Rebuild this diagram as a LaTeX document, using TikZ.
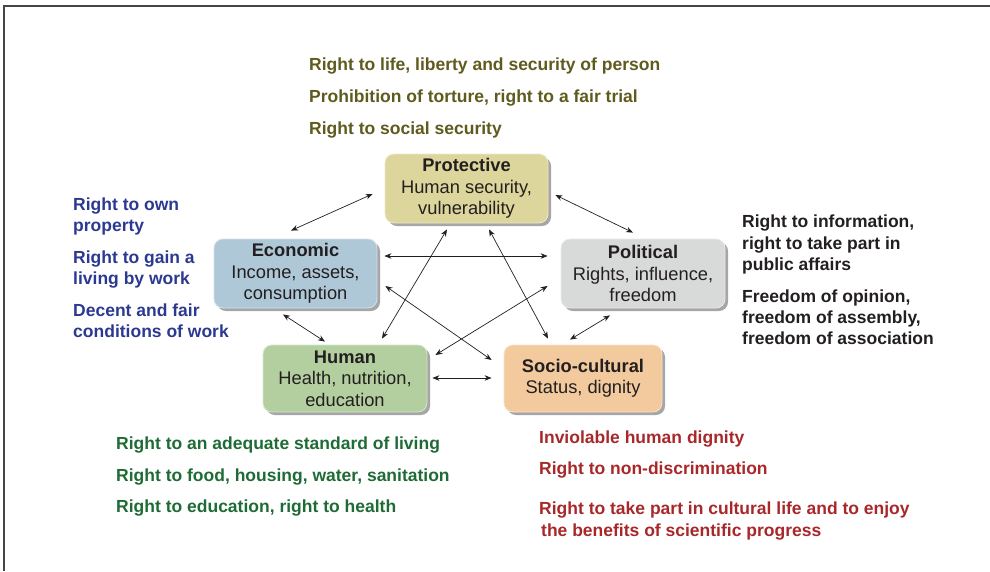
\documentclass[tikz,border=0pt]{standalone}
\usepackage{fontspec}
\setmainfont{Liberation Sans}
\usetikzlibrary{arrows.meta,calc,shadows}

\definecolor{olivetxt}{RGB}{95,90,30}
\definecolor{bluetxt}{RGB}{43,57,144}
\definecolor{blacktxt}{RGB}{35,31,32}
\definecolor{greentxt}{RGB}{30,107,53}
\definecolor{redtxt}{RGB}{168,40,42}
\definecolor{protfill}{RGB}{221,214,156}
\definecolor{econfill}{RGB}{175,200,216}
\definecolor{polfill}{RGB}{216,217,217}
\definecolor{humfill}{RGB}{179,207,160}
\definecolor{sociofill}{RGB}{243,202,158}
\definecolor{framecol}{RGB}{70,70,70}

\begin{document}
\begin{tikzpicture}[x=1pt,y=-1pt,
  box/.style={rounded corners=9pt, minimum height=69pt, align=center,
    fill=#1, draw=#1!55!white, line width=0.8pt,
    font=\fontsize{18.3}{21.5}\selectfont, text=blacktxt, inner sep=0pt,
    drop shadow={shadow xshift=3pt, shadow yshift=-3pt, fill=black!35, opacity=1}},
  rights/.style={anchor=base west, inner sep=0pt, text=#1,
    font=\fontsize{17.5}{21}\selectfont\bfseries},
  arr/.style={{Stealth[length=7pt,width=5.5pt]}-{Stealth[length=7pt,width=5.5pt]},
    line width=0.7pt, blacktxt}]

\useasboundingbox (0,0) rectangle (990,571);

% frame along the top and left edges
\draw[framecol, line width=1.5pt] (4,571) -- (4,6) -- (990,6);

% the five dimensions
\node[box=protfill, minimum width=163pt] (prot) at (466.5,188.5)
  {\textbf{Protective}\\Human security,\\vulnerability};
\node[box=econfill, minimum width=163pt] (econ) at (295.5,273.5)
  {\textbf{Economic}\\Income, assets,\\consumption};
\node[box=polfill, minimum width=164pt] (pol) at (643,273.5)
  {\textbf{Political}\\Rights, influence,\\freedom};
\node[box=humfill, minimum width=164pt, minimum height=67pt] (hum) at (345,378.5)
  {\textbf{Human}\\Health, nutrition,\\education};
\node[box=sociofill, minimum width=158pt, minimum height=67pt] (socio) at (583,378.5)
  {\textbf{Socio-cultural}\\Status, dignity};

% connections between the dimensions
\draw[arr] ($(prot.west)+(-12,5.5)$) -- ($(econ.north)+(-4.5,-8)$);
\draw[arr] ($(prot.east)+(7,6.5)$) -- ($(pol.north)+(-10,-6)$);
\draw[arr] ($(econ.east)+(7,-17.5)$) -- ($(pol.west)+(-13,-17.5)$);
\draw[arr] ($(prot.south)+(-19.5,6)$) -- ($(hum.north)+(37,-6)$);
\draw[arr] ($(prot.south)+(22.5,6)$) -- ($(socio.north)+(-35,-6)$);
\draw[arr] ($(econ.east)+(8,12.5)$) -- ($(socio.west)+(-12,-18.5)$);
\draw[arr] ($(pol.west)+(-13,12.5)$) -- ($(hum.east)+(8,-23.5)$);
\draw[arr] ($(econ.south)+(-12.5,6)$) -- ($(hum.north)+(-20,-3)$);
\draw[arr] ($(pol.south)+(-33,7)$) -- ($(socio.north)+(-13,-5)$);
\draw[arr] ($(hum.east)+(5,-0.5)$) -- ($(socio.west)+(-12,-0.5)$);

% rights linked to the protective dimension
\node[rights=olivetxt] (p1) at (309,70.5) {Right to life, liberty and security of person};
\node[rights=olivetxt] (p2) at (309,102.5) {Prohibition of torture, right to a fair trial};
\node[rights=olivetxt] (p3) at (309,134.5) {Right to social security};

% rights linked to the economic dimension
\node[rights=bluetxt] (e1) at (73,210.5) {Right to own};
\node[rights=bluetxt] (e2) at (73,231.5) {property};
\node[rights=bluetxt] (e3) at (73,263.5) {Right to gain a};
\node[rights=bluetxt] (e4) at (73,284.5) {living by work};
\node[rights=bluetxt] (e5) at (73,316.5) {Decent and fair};
\node[rights=bluetxt] (e6) at (73,337.5) {conditions of work};

% rights linked to the political dimension
\node[rights=blacktxt] (l1) at (742,227.5) {Right to information,};
\node[rights=blacktxt] (l2) at (742,249.5) {right to take part in};
\node[rights=blacktxt] (l3) at (742,270.5) {public affairs};
\node[rights=blacktxt] (l4) at (742,302.5) {Freedom of opinion,};
\node[rights=blacktxt] (l5) at (742,323.5) {freedom of assembly,};
\node[rights=blacktxt] (l6) at (742,344.5) {freedom of association};

% rights linked to the human dimension
\node[rights=greentxt] (h1) at (116,449.5) {Right to an adequate standard of living};
\node[rights=greentxt] (h2) at (116,481.5) {Right to food, housing, water, sanitation};
\node[rights=greentxt] (h3) at (116,512.5) {Right to education, right to health};

% rights linked to the socio-cultural dimension
\node[rights=redtxt] (s1) at (539,443.5) {Inviolable human dignity};
\node[rights=redtxt] (s2) at (539,474.5) {Right to non-discrimination};
\node[rights=redtxt] (s3) at (539,514.5) {Right to take part in cultural life and to enjoy};
\node[rights=redtxt] (s4) at (541,536.5) {the benefits of scientific progress};

\end{tikzpicture}
\end{document}
